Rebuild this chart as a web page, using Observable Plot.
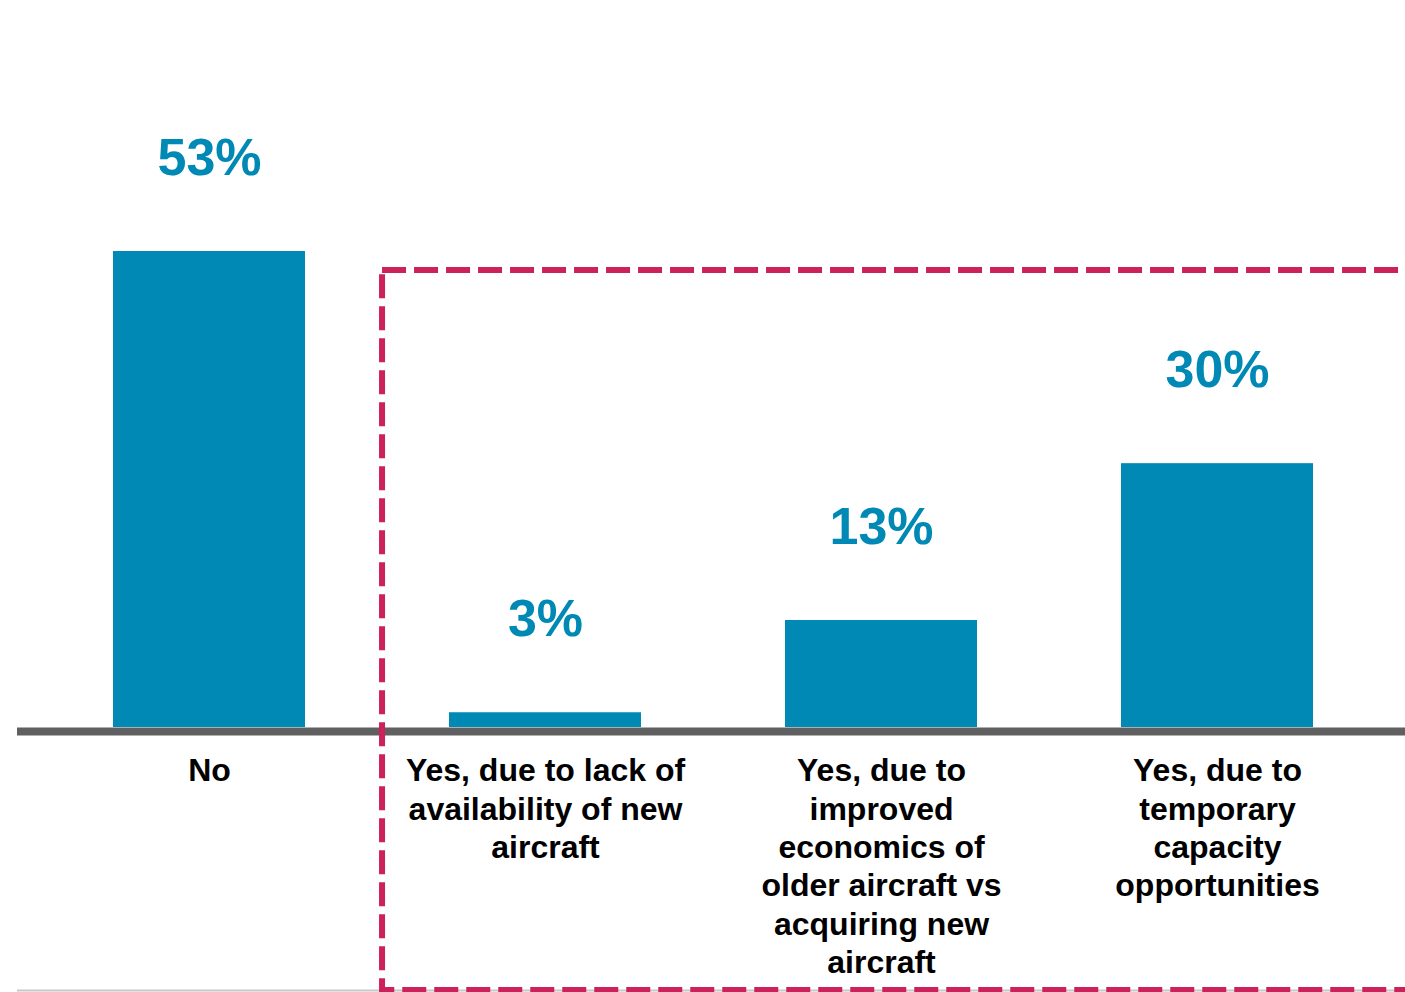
<!DOCTYPE html>
<html><head><meta charset="utf-8">
<script src="https://cdn.jsdelivr.net/npm/d3@7"></script>
<script src="https://cdn.jsdelivr.net/npm/@observablehq/plot@0.6"></script>
<style>html,body{margin:0;padding:0;background:#fff;overflow:hidden}</style>
</head><body><div id="chart"></div>
<script>
const categories = [
  "No",
  "Yes, due to lack of\navailability of new\naircraft",
  "Yes, due to\nimproved\neconomics of\nolder aircraft vs\nacquiring new\naircraft",
  "Yes, due to\ntemporary\ncapacity\nopportunities"
];
const values = [53, 3, 13, 30];
const valueLabels = ["53%", "3%", "13%", "30%"];

const data = categories.map((c, i) => ({i, category: c, value: values[i], label: valueLabels[i]}));

const yMin = 1.4;          // value axis starts slightly above zero in the original
const boxTop = 50.94, boxBottom = -27.1, boxLeft = 0.515, boxRight = 3.7;
const blue = "#0089b4", crimson = "#cc2259";
const font = "'Liberation Sans', Arial, Helvetica, sans-serif";

const chart = Plot.plot({
  width: 1405,
  height: 992,
  marginTop: 0, marginBottom: 0, marginLeft: 17, marginRight: 0,
  style: {fontFamily: font, background: "#fff"},
  x: {type: "linear", domain: [-0.5, 3.5], range: [41, 1385], axis: null},
  y: {domain: [yMin, 53], range: [727, 251], axis: null},
  marks: [
    Plot.rectY(data, {x1: d => d.i - 0.2857, x2: d => d.i + 0.2857, y1: yMin, y2: "value", fill: blue}),
    Plot.ruleY([yMin], {stroke: "#606060", strokeWidth: 8, dy: 4}),
    Plot.ruleY([boxBottom], {stroke: "#c8c8c8", strokeWidth: 2}),
    Plot.rect([{}], {x1: boxLeft, x2: boxRight, y1: boxBottom, y2: boxTop, fill: "none",
      stroke: crimson, strokeWidth: 6, strokeDasharray: "24,8"}),
    Plot.text(data, {x: "i", y: "value", text: "label", lineAnchor: "bottom", dy: -76.5,
      fontSize: 52, fontWeight: "bold", fill: blue, fontFamily: font}),
    Plot.text(data, {x: "i", y: yMin, text: "category", lineAnchor: "top", dy: 26.5,
      fontSize: 32, lineHeight: 1.2, fontWeight: "bold", fill: "#000", fontFamily: font})
  ]
});
document.getElementById("chart").appendChild(chart);
</script>
</body></html>
